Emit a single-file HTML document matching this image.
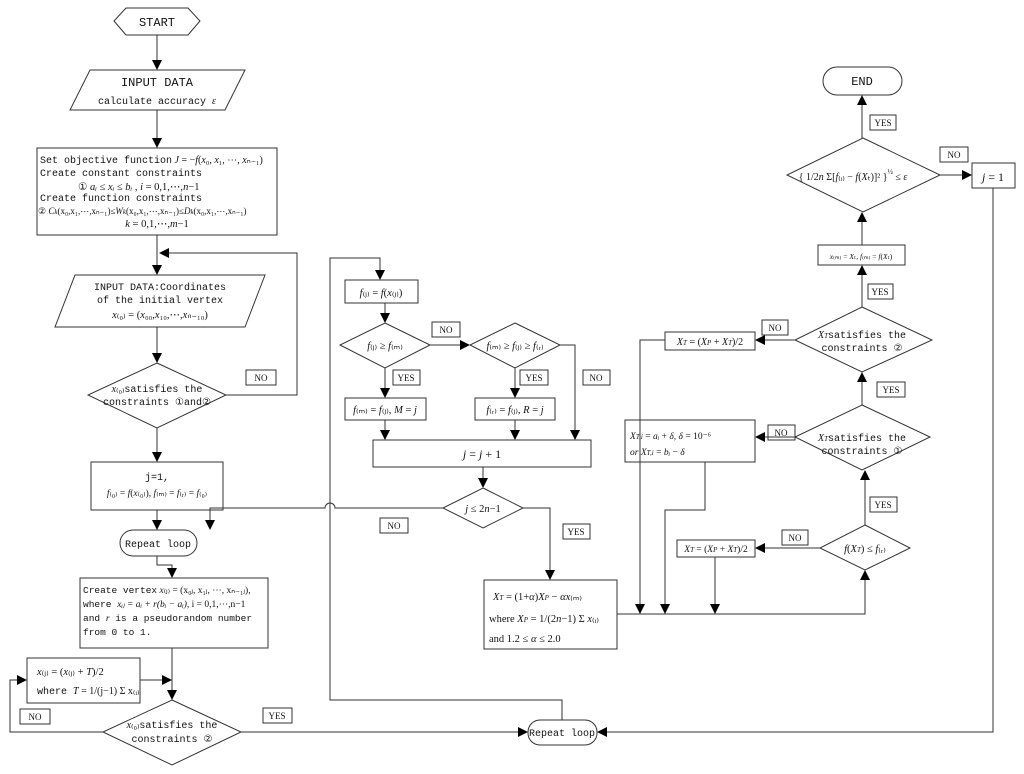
<!DOCTYPE html>
<html><head><meta charset="utf-8"><style>
html,body{margin:0;padding:0;background:#fff}
svg{display:block}
text{font-family:"Liberation Serif",serif;font-size:10.5px;fill:#111}
.m{font-family:"Liberation Mono",monospace;font-size:10px}
.i{font-style:italic}
.s{font-family:"Liberation Serif",serif}
</style></head><body>
<svg width="1024" height="774" viewBox="0 0 1024 774" xmlns="http://www.w3.org/2000/svg">
<defs><marker id="a" markerWidth="10" markerHeight="10" refX="9" refY="5" orient="auto" markerUnits="userSpaceOnUse"><path d="M0,0 L10,5 L0,10 z" fill="#000"/></marker></defs>
<g fill="none" stroke="#333" stroke-width="1">
<path d="M126,8 L188,8 L200,21 L188,35 L126,35 L114,21 Z"/>
<path d="M157,35 V69" marker-end="url(#a)"/>
<path d="M90,70 L245,70 L225,110 L70,110 Z"/>
<path d="M157,110 V147" marker-end="url(#a)"/>
<rect x="37" y="148" width="240" height="87"/>
<path d="M157,235 V274" marker-end="url(#a)"/>
<path d="M226,395 H297 V253 H160" marker-end="url(#a)"/>
<path d="M75,275 L265,275 L245,327 L55,327 Z"/>
<path d="M157,327 V362" marker-end="url(#a)"/>
<path d="M157,363 L226,395 L157,428 L88,395 Z"/>
<rect x="246" y="370" width="30" height="15"/>
<path d="M157,428 V461" marker-end="url(#a)"/>
<rect x="91" y="462" width="132" height="48"/>
<path d="M157,510 V529" marker-end="url(#a)"/>
<rect x="120" y="530" width="77" height="26" rx="13"/>
<path d="M443,508 H335 A5,5 0 0 0 325,508 H210 V529" marker-end="url(#a)"/>
<path d="M157,556 V565 H172 V577" marker-end="url(#a)"/>
<rect x="80" y="578" width="188" height="70"/>
<path d="M172,648 V699" marker-end="url(#a)"/>
<rect x="27" y="658" width="113" height="45"/>
<path d="M140,680 H171" marker-end="url(#a)"/>
<path d="M172,700 L241,732 L172,765 L103,732 Z"/>
<path d="M103,732 H10 V680 H26" marker-end="url(#a)"/>
<rect x="20" y="709" width="30" height="15"/>
<path d="M241,732 H527" marker-end="url(#a)"/>
<rect x="263" y="708" width="29" height="15"/>
<rect x="528" y="720" width="69" height="25" rx="12"/>
<path d="M562,720 V700 H330 V258 H380 V279" marker-end="url(#a)"/>
<rect x="345" y="280" width="73" height="23"/>
<path d="M385,303 V322" marker-end="url(#a)"/>
<path d="M385,323 L430,345 L385,368 L340,345 Z"/>
<path d="M430,345 H469" marker-end="url(#a)"/>
<rect x="432" y="322" width="28" height="15"/>
<path d="M515,323 L560,345 L515,368 L470,345 Z"/>
<path d="M560,345 H575 V439" marker-end="url(#a)"/>
<rect x="583" y="370" width="27" height="15"/>
<path d="M385,368 V397" marker-end="url(#a)"/>
<rect x="393" y="370" width="27" height="15"/>
<rect x="345" y="398" width="81" height="22"/>
<path d="M515,368 V397" marker-end="url(#a)"/>
<rect x="520" y="370" width="28" height="15"/>
<rect x="475" y="398" width="80" height="22"/>
<path d="M385,420 V439" marker-end="url(#a)"/>
<path d="M515,420 V439" marker-end="url(#a)"/>
<rect x="373" y="440" width="218" height="27"/>
<path d="M483,467 V487" marker-end="url(#a)"/>
<path d="M483,488 L523,508 L483,528 L443,508 Z"/>
<rect x="380" y="518" width="28" height="15"/>
<rect x="563" y="524" width="27" height="15"/>
<path d="M523,508 H550 V579" marker-end="url(#a)"/>
<rect x="484" y="580" width="133" height="69"/>
<path d="M617,614 H865 V571" marker-end="url(#a)"/>
<path d="M865,525 L910,548 L865,570 L820,548 Z"/>
<path d="M820,548 H756" marker-end="url(#a)"/>
<rect x="782" y="530" width="26" height="15"/>
<rect x="677" y="540" width="78" height="17"/>
<path d="M715,557 V613" marker-end="url(#a)"/>
<rect x="870" y="497" width="27" height="15"/>
<path d="M865,525 V471" marker-end="url(#a)"/>
<path d="M862,405 L930,437 L862,470 L795,437 Z"/>
<path d="M795,437 H756" marker-end="url(#a)"/>
<rect x="768" y="425" width="27" height="15"/>
<rect x="625" y="420" width="130" height="42"/>
<path d="M705,462 V510 H665 V613" marker-end="url(#a)"/>
<rect x="877" y="382" width="28" height="15"/>
<path d="M862,405 V373" marker-end="url(#a)"/>
<path d="M862,307 L932,340 L862,372 L795,340 Z"/>
<path d="M795,340 H756" marker-end="url(#a)"/>
<rect x="762" y="320" width="26" height="15"/>
<rect x="665" y="332" width="90" height="18"/>
<path d="M665,340 H640 V613" marker-end="url(#a)"/>
<rect x="868" y="284" width="25" height="15"/>
<path d="M862,307 V266" marker-end="url(#a)"/>
<rect x="818" y="245" width="87" height="20"/>
<path d="M862,245 V213" marker-end="url(#a)"/>
<path d="M863,138 L940,175 L863,212 L787,175 Z"/>
<rect x="940" y="147" width="28" height="15"/>
<path d="M940,175 H971" marker-end="url(#a)"/>
<rect x="972" y="163" width="43" height="25"/>
<path d="M993,188 V732 H598" marker-end="url(#a)"/>
<rect x="870" y="115" width="26" height="15"/>
<path d="M862,138 V96" marker-end="url(#a)"/>
<rect x="823" y="67" width="79" height="28" rx="14"/>
</g>
<g>
<text x="157" y="26" text-anchor="middle" class="m" style="font-size:12px">START</text>
<text x="157" y="86" text-anchor="middle" class="m" style="font-size:12px">INPUT DATA</text>
<text x="157" y="104" text-anchor="middle" class="m">calculate accuracy <tspan class="i s">ε</tspan></text>
<text x="40" y="163" class="m">Set objective function<tspan class="s"> <tspan class="i">J</tspan> = −<tspan class="i">f</tspan>(<tspan class="i">x</tspan>₀, <tspan class="i">x</tspan>₁, ⋯, <tspan class="i">x</tspan>ₙ₋₁)</tspan></text>
<text x="40" y="176" class="m">Create constant constraints</text>
<text x="78" y="190">① <tspan class="i">aᵢ ≤ xᵢ ≤ bᵢ</tspan> ,   <tspan class="i">i</tspan> = 0,1,⋯,<tspan class="i">n</tspan>−1</text>
<text x="40" y="201" class="m">Create function constraints</text>
<text x="38" y="214" style="font-size:9px">② <tspan class="i">C<tspan font-size="7">k</tspan></tspan>(x₀,x₁,⋯,xₙ₋₁)≤<tspan class="i">W<tspan font-size="7">k</tspan></tspan>(x₀,x₁,⋯,xₙ₋₁)≤<tspan class="i">D<tspan font-size="7">k</tspan></tspan>(x₀,x₁,⋯,xₙ₋₁)</text>
<text x="157" y="227" text-anchor="middle"><tspan class="i">k</tspan> = 0,1,⋯,<tspan class="i">m</tspan>−1</text>
<text x="160" y="290" text-anchor="middle" class="m">INPUT DATA:Coordinates</text>
<text x="160" y="303" text-anchor="middle" class="m">of the initial vertex</text>
<text x="160" y="318" text-anchor="middle"><tspan class="i">x</tspan>₍₀₎ = (<tspan class="i">x</tspan>₀₀,<tspan class="i">x</tspan>₁₀,⋯,<tspan class="i">x</tspan>ₙ₋₁₀)</text>
<text x="157" y="392" text-anchor="middle" class="m"><tspan class="s"><tspan class="i">x</tspan>₍₀₎</tspan>satisfies the</text>
<text x="157" y="405" text-anchor="middle" class="m">constraints ①and②</text>
<text x="261" y="381" text-anchor="middle" style="font-size:9px">NO</text>
<text x="157" y="480" text-anchor="middle" class="m">j=1,</text>
<text x="157" y="496" text-anchor="middle" style="font-size:9.5px"><tspan class="i">f</tspan>₍₀₎ = <tspan class="i">f</tspan>(<tspan class="i">x</tspan>₍₀₎), <tspan class="i">f</tspan>₍ₘ₎ = <tspan class="i">f</tspan>₍ᵣ₎ = <tspan class="i">f</tspan>₍₀₎</text>
<text x="158" y="547" text-anchor="middle" class="m">Repeat loop</text>
<text x="83" y="593" class="m" style="font-size:9.5px">Create vertex<tspan class="s"> <tspan class="i">x</tspan>₍ⱼ₎ = (x₀ⱼ, x₁ⱼ, ⋯, xₙ₋₁ⱼ),</tspan></text>
<text x="83" y="607" class="m" style="font-size:9.5px">where <tspan class="i s">xᵢⱼ = aᵢ + r(bᵢ − aᵢ)</tspan><tspan class="s">,  i = 0,1,⋯,n−1</tspan></text>
<text x="83" y="621" class="m" style="font-size:9.5px">and <tspan class="i s">r</tspan> is a pseudorandom number</text>
<text x="83" y="635" class="m" style="font-size:9.5px">from 0 to 1.</text>
<text x="37" y="675"><tspan class="i">x</tspan>₍ⱼ₎ = (<tspan class="i">x</tspan>₍ⱼ₎ + <tspan class="i">T</tspan>)/2</text>
<text x="37" y="694" class="m">where <tspan class="s"><tspan class="i">T</tspan> = 1/(j−1) Σ x₍ᵢ₎</tspan></text>
<text x="172" y="728" text-anchor="middle" class="m"><tspan class="s"><tspan class="i">x</tspan>₍₀₎</tspan>satisfies the</text>
<text x="172" y="742" text-anchor="middle" class="m">constraints ②</text>
<text x="35" y="720" text-anchor="middle" style="font-size:9px">NO</text>
<text x="277" y="719" text-anchor="middle" style="font-size:9px">YES</text>
<text x="562" y="736" text-anchor="middle" class="m">Repeat loop</text>
<text x="381" y="296" text-anchor="middle"><tspan class="i">f</tspan>₍ⱼ₎ = <tspan class="i">f</tspan>(<tspan class="i">x</tspan>₍ⱼ₎)</text>
<text x="385" y="349" text-anchor="middle"><tspan class="i">f</tspan>₍ⱼ₎ ≥ <tspan class="i">f</tspan>₍ₘ₎</text>
<text x="515" y="349" text-anchor="middle"><tspan class="i">f</tspan>₍ₘ₎ ≥ <tspan class="i">f</tspan>₍ⱼ₎ ≥ <tspan class="i">f</tspan>₍ᵣ₎</text>
<text x="446" y="333" text-anchor="middle" style="font-size:9px">NO</text>
<text x="596" y="381" text-anchor="middle" style="font-size:9px">NO</text>
<text x="406" y="381" text-anchor="middle" style="font-size:9px">YES</text>
<text x="534" y="381" text-anchor="middle" style="font-size:9px">YES</text>
<text x="385" y="413" text-anchor="middle"><tspan class="i">f</tspan>₍ₘ₎ = <tspan class="i">f</tspan>₍ⱼ₎, <tspan class="i">M</tspan> = <tspan class="i">j</tspan></text>
<text x="515" y="413" text-anchor="middle"><tspan class="i">f</tspan>₍ᵣ₎ = <tspan class="i">f</tspan>₍ⱼ₎, <tspan class="i">R</tspan> = <tspan class="i">j</tspan></text>
<text x="482" y="458" text-anchor="middle" style="font-size:12px"><tspan class="i">j</tspan> =  <tspan class="i">j</tspan> + 1</text>
<text x="483" y="512" text-anchor="middle"><tspan class="i">j</tspan> ≤ 2<tspan class="i">n</tspan>−1</text>
<text x="394" y="529" text-anchor="middle" style="font-size:9px">NO</text>
<text x="576" y="535" text-anchor="middle" style="font-size:9px">YES</text>
<text x="493" y="600"><tspan class="i">X<tspan font-size="7">T</tspan></tspan> = (1+<tspan class="i">α</tspan>)<tspan class="i">X<tspan font-size="7">P</tspan></tspan> − <tspan class="i">αx</tspan>₍ₘ₎</text>
<text x="489" y="622">where <tspan class="i">X<tspan font-size="7">P</tspan></tspan> = 1/(2<tspan class="i">n</tspan>−1) Σ <tspan class="i">x</tspan>₍ᵢ₎</text>
<text x="489" y="642">and  1.2 ≤ <tspan class="i">α</tspan> ≤ 2.0</text>
<text x="716" y="552" text-anchor="middle" style="font-size:9.5px"><tspan class="i">X<tspan font-size="7">T</tspan></tspan> = (<tspan class="i">X<tspan font-size="7">P</tspan></tspan> + <tspan class="i">X<tspan font-size="7">T</tspan></tspan>)/2</text>
<text x="795" y="541" text-anchor="middle" style="font-size:9px">NO</text>
<text x="865" y="552" text-anchor="middle"><tspan class="i">f</tspan>(<tspan class="i">X<tspan font-size="7">T</tspan></tspan>) ≤ <tspan class="i">f</tspan>₍ᵣ₎</text>
<text x="883" y="508" text-anchor="middle" style="font-size:9px">YES</text>
<text x="862" y="441" text-anchor="middle" class="m"><tspan class="i s">X<tspan font-size="7">T</tspan></tspan>satisfies the</text>
<text x="862" y="454" text-anchor="middle" class="m">constraints ①</text>
<text x="781" y="436" text-anchor="middle" style="font-size:9px">NO</text>
<text x="630" y="439" style="font-size:9.5px"><tspan class="i">X<tspan font-size="7">T,i</tspan></tspan> = <tspan class="i">aᵢ</tspan> + <tspan class="i">δ</tspan>,   <tspan class="i">δ</tspan> = 10⁻⁶</text>
<text x="630" y="455" style="font-size:9.5px"><tspan class="i">or   X<tspan font-size="7">T,i</tspan></tspan> = <tspan class="i">bᵢ</tspan> − <tspan class="i">δ</tspan></text>
<text x="891" y="393" text-anchor="middle" style="font-size:9px">YES</text>
<text x="862" y="338" text-anchor="middle" class="m"><tspan class="i s">X<tspan font-size="7">T</tspan></tspan>satisfies the</text>
<text x="862" y="351" text-anchor="middle" class="m">constraints ②</text>
<text x="775" y="331" text-anchor="middle" style="font-size:9px">NO</text>
<text x="710" y="345" text-anchor="middle" style="font-size:10px"><tspan class="i">X<tspan font-size="7">T</tspan></tspan> = (<tspan class="i">X<tspan font-size="7">P</tspan></tspan> + <tspan class="i">X<tspan font-size="7">T</tspan></tspan>)/2</text>
<text x="880" y="295" text-anchor="middle" style="font-size:9px">YES</text>
<text x="861" y="259" text-anchor="middle" style="font-size:7.5px"><tspan class="i">x</tspan>₍ₘ₎ = <tspan class="i">X</tspan>ₜ, <tspan class="i">f</tspan>₍ₘ₎ = <tspan class="i">f</tspan>(<tspan class="i">X</tspan>ₜ)</text>
<text x="853" y="180" text-anchor="middle" style="font-size:10px">{ 1/2<tspan class="i">n</tspan> Σ[<tspan class="i">f</tspan>₍ᵢ₎ − <tspan class="i">f</tspan>(<tspan class="i">X</tspan>ₜ)]² }<tspan font-size="7" dy="-6">½</tspan><tspan dy="6"> ≤ </tspan><tspan class="i">ε</tspan></text>
<text x="954" y="158" text-anchor="middle" style="font-size:9px">NO</text>
<text x="993" y="181" text-anchor="middle" style="font-size:12px"><tspan class="i">j</tspan> = 1</text>
<text x="883" y="126" text-anchor="middle" style="font-size:9px">YES</text>
<text x="862" y="85" text-anchor="middle" class="m" style="font-size:12px">END</text>
</g>
</svg>
</body></html>
